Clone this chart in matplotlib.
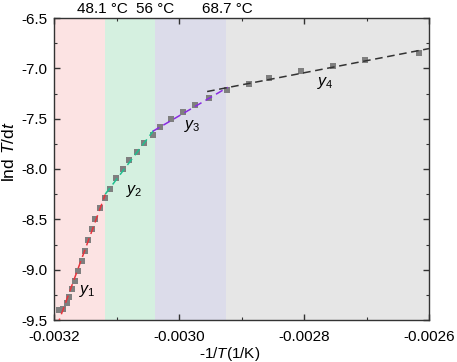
import numpy as np
import matplotlib
matplotlib.use("Agg")
import matplotlib.pyplot as plt
import matplotlib.transforms as mtransforms
from matplotlib.ticker import MultipleLocator

plt.rcParams['font.family'] = ['Liberation Sans', 'DejaVu Sans']
plt.rcParams['mathtext.fontset'] = 'custom'
plt.rcParams['mathtext.rm'] = 'Liberation Sans'
plt.rcParams['mathtext.it'] = 'Liberation Sans:italic'

# data: x = -1/T (1/K), y = ln dT/dt
x_vals = [-0.003192, -0.003185, -0.003180, -0.003176, -0.003171, -0.003167, -0.003161,
          -0.003156, -0.003151, -0.003146, -0.003140, -0.003134, -0.003127, -0.003119,
          -0.003110, -0.0031003, -0.0030899, -0.0030795, -0.003068, -0.0030563, -0.0030421,
          -0.0030301, -0.0030136, -0.0029941, -0.0029744, -0.002952, -0.0029232,
          -0.0028877, -0.0028555, -0.0028048, -0.0027531, -0.0027021, -0.0026165]
y_vals = [-9.401, -9.386, -9.336, -9.272, -9.195, -9.110, -9.010,
          -8.912, -8.813, -8.705, -8.599, -8.495, -8.390, -8.285,
          -8.194, -8.094, -8.003, -7.914, -7.828, -7.742, -7.660,
          -7.583, -7.505, -7.431, -7.361, -7.292, -7.220,
          -7.158, -7.094, -7.031, -6.972, -6.915, -6.851]

# stage boundaries (x) and their temperature labels
boundaries = [-0.003118, -0.003039, -0.002925]
boundary_labels = ['48.1 °C', '56 °C', '68.7 °C']
boundary_label_shift = [-3, 0, 1]   # small horizontal nudges (px)
region_colors = ['#fce3e3', '#d5f0e0', '#dcdcea', '#e6e6e6']

# linear fits per stage
fit_names = ['$y_1$', '$y_2$', '$y_3$', '$y_4$']
fit_index = [(0, 13), (13, 20), (20, 26), (26, 32)]
fit_xrange = [(-0.003195, -0.003118), (-0.003118, -0.003041), (-0.003042, -0.002922),
              (-0.002955, -0.0026)]
fit_colors = ['#e8343c', '#1fbf8f', '#8a2be2', '#333333']
label_pos = [(-0.003146, -9.21), (-0.003072, -8.22), (-0.002978, -7.57), (-0.002766, -7.15)]

xlim = (-0.0032, -0.0026)
ylim = (-9.5, -6.5)

fig = plt.figure(figsize=(4.57, 3.62), dpi=100)
ax = fig.add_axes([54/457, 1-320/362, 375/457, 302/362])

edges = [xlim[0]] + boundaries + [xlim[1]]
for i, c in enumerate(region_colors):
    ax.axvspan(edges[i], edges[i+1], color=c, lw=0, zorder=0)

x = np.array(x_vals)
y = np.array(y_vals)
ax.scatter(x, y, marker='s', s=24, color='#7f7f7f', zorder=3, linewidths=0)

for (i0, i1), (xa, xb), col in zip(fit_index, fit_xrange, fit_colors):
    p = np.polyfit(x[i0:i1+1], y[i0:i1+1], 1)
    xx = np.array([xa, xb])
    ax.plot(xx, np.polyval(p, xx), ls=(0, (5, 3)), color=col, lw=1.1, zorder=4)

for name, (lx, ly) in zip(fit_names, label_pos):
    ax.text(lx, ly, name, fontsize=11.5, ha='center', va='center', zorder=5)

for b, lab, dx in zip(boundaries, boundary_labels, boundary_label_shift):
    tr = ax.get_xaxis_transform() + mtransforms.ScaledTranslation(dx / 100, 0, fig.dpi_scale_trans)
    ax.text(b, 1 + 5/302, lab, transform=tr, ha='center', va='baseline', fontsize=11)

ax.set_xlim(*xlim)
ax.set_ylim(*ylim)
ax.xaxis.set_major_locator(MultipleLocator(0.0002))
ax.xaxis.set_minor_locator(MultipleLocator(0.0001))
ax.yaxis.set_major_locator(MultipleLocator(0.5))
ax.yaxis.set_minor_locator(MultipleLocator(0.25))
ax.xaxis.set_major_formatter(plt.FuncFormatter(lambda v, p: f'{v:.4f}'))
ax.yaxis.set_major_formatter(plt.FuncFormatter(lambda v, p: f'{v:.1f}'))
ax.tick_params(which='both', direction='in', top=True, right=True, labelsize=11,
               color='#333333')
ax.tick_params(which='major', length=4, width=1)
ax.tick_params(which='minor', length=2.5, width=0.8)
ax.tick_params(axis='x', pad=7)
ax.tick_params(axis='y', pad=5)
for s in ax.spines.values():
    s.set_color('#333333')
    s.set_linewidth(1)

ax.set_xlabel('-1/$\\it{T}$(1/K)', fontsize=11)
ax.xaxis.set_label_coords(0.467, -0.083)
ax.set_ylabel('lnd $\\it{T}$/d$\\it{t}$', fontsize=12.5)
ax.yaxis.set_label_coords(-0.0987, 0.556)

fig.savefig('out.png', dpi=100)
